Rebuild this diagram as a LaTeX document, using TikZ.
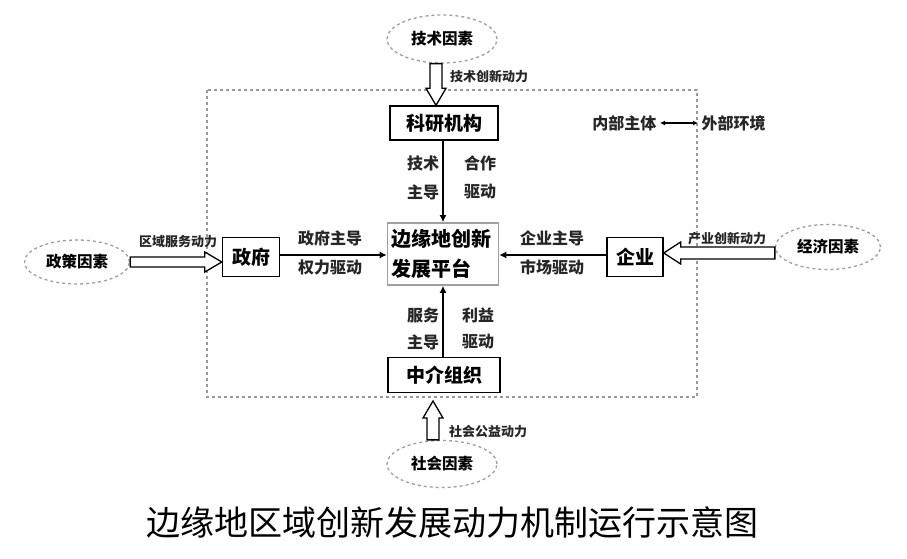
\documentclass[tikz,border=0pt]{standalone}
\usepackage{fontspec}
\setmainfont{Noto Sans CJK SC}
\usetikzlibrary{shapes.geometric,arrows.meta,calc}
\begin{document}
\begin{tikzpicture}[x=1pt,y=-1pt,
  box/.style={draw=black, line width=1.4pt, inner sep=0pt, font=\bfseries\fontsize{19}{21}\selectfont},
  platform/.style={draw=gray!75, line width=1.6pt, inner sep=0pt, align=left, font=\bfseries\fontsize{20}{30}\selectfont},
  elli/.style={ellipse, draw=gray!75, dash pattern=on 3pt off 3pt, line width=1.3pt, inner sep=0pt, font=\bfseries\fontsize{15.5}{16}\selectfont},
  lab/.style={font=\bfseries\fontsize{16}{17}\selectfont, text=black!85},
  small/.style={font=\bfseries\fontsize{13}{14}\selectfont, text=black!85},
  conn/.style={-{Latex[length=7pt,width=7pt]}, line width=1.5pt},
  hollow/.style={draw=black, line width=1.3pt, fill=white, line join=miter},
  frame/.style={draw=gray!80, line width=1.3pt, dash pattern=on 3pt off 3pt}
]
\useasboundingbox (0,0) rectangle (907,559);
\fill[white] (0,0) rectangle (907,559);

% dashed frame
\draw[frame] (207,90) rectangle (697,397);

% nodes
\node[box, minimum width=108pt, minimum height=34pt] (kyjg) at (444,123) {科研机构};
\node[platform, minimum width=111pt, minimum height=62pt, text width=104pt] (ptf) at (443,254) {边缘地创新\\发展平台};
\node[box, minimum width=57pt, minimum height=39pt] (zf) at (251,257) {政府};
\node[box, minimum width=56pt, minimum height=39pt] (qy) at (635,257) {企业};
\node[box, minimum width=112pt, minimum height=35pt] (zjzz) at (444,375) {中介组织};

\node[elli, minimum width=110pt, minimum height=48pt] (jsys) at (442,39) {技术因素};
\node[elli, minimum width=105pt, minimum height=44pt] (zcys) at (77,262) {政策因素};
\node[elli, minimum width=105pt, minimum height=45pt] (jjys) at (828,247) {经济因素};
\node[elli, minimum width=110pt, minimum height=47pt] (shys) at (442,464) {社会因素};

% internal connectors
\draw[conn] (kyjg.south -| 443,0) -- (ptf.north -| 443,0);
\draw[conn] (zjzz.north -| 443,0) -- (ptf.south -| 443,0);
\draw[conn] (zf.east |- 0,255) -- (ptf.west |- 0,255);
\draw[conn] (qy.west |- 0,255) -- (ptf.east |- 0,255);

% hollow arrows
% top
\coordinate (t1) at ($(kyjg.north)+(-8,0)$);
\coordinate (b1) at ($(jsys.south)+(-6,0)$);
\draw[hollow] ($(b1)+(-6,0)$) -- ($(t1)+(-6,-17)$) -- ($(t1)+(-10,-17)$) -- (t1)
  -- ($(t1)+(10,-17)$) -- ($(t1)+(6,-17)$) -- ($(b1)+(6,0)$) -- cycle;
% left
\coordinate (t2) at ($(zf.west)+(0,5)$);
\coordinate (b2) at (zcys.east |- t2);
\draw[hollow] ($(b2)+(0,-5)$) -- ($(t2)+(-17,-5)$) -- ($(t2)+(-17,-10)$) -- (t2)
  -- ($(t2)+(-17,10)$) -- ($(t2)+(-17,5)$) -- ($(b2)+(0,5)$) -- cycle;
% right
\coordinate (t3) at ($(qy.east)+(0,-4)$);
\coordinate (b3) at (jjys.west |- t3);
\draw[hollow] ($(b3)+(0,-6)$) -- ($(t3)+(17,-6)$) -- ($(t3)+(17,-11)$) -- (t3)
  -- ($(t3)+(17,11)$) -- ($(t3)+(17,6)$) -- ($(b3)+(0,6)$) -- cycle;
% bottom
\coordinate (t4) at (433,401);
\coordinate (b4) at (shys.north -| t4);
\draw[hollow] ($(b4)+(-6,0)$) -- ($(t4)+(-6,17)$) -- ($(t4)+(-10,17)$) -- (t4)
  -- ($(t4)+(10,17)$) -- ($(t4)+(6,17)$) -- ($(b4)+(6,0)$) -- cycle;

% arrow labels
\node[small] (l1) at (489,77) {技术创新动力};
\node[small] (l2) at (178,242) {区域服务动力};
\node[small] (l3) at (727,239) {产业创新动力};
\node[small] (l4) at (488,432) {社会公益动力};

% connector labels
\node[lab] (a1) at (423,163) {技术};
\node[lab] (a2) at (423,192) {主导};
\node[lab] (a3) at (480,163) {合作};
\node[lab] (a4) at (480,192) {驱动};
\node[lab] (c1) at (423,315) {服务};
\node[lab] (c2) at (423,342) {主导};
\node[lab] (c3) at (478,315) {利益};
\node[lab] (c4) at (478,342) {驱动};
\node[lab] (d1) at (330,238) {政府主导};
\node[lab] (d2) at (330,267) {权力驱动};
\node[lab] (e1) at (552,238) {企业主导};
\node[lab] (e2) at (552,267) {市场驱动};

% legend
\node[lab, anchor=east] (nb) at (660,123) {内部主体};
\node[lab, anchor=west] (wb) at (698,123) {外部环境};
\draw[{Latex[length=5pt,width=5pt]}-{Latex[length=5pt,width=5pt]}, line width=1.3pt] (nb.east) -- (wb.west);

% caption
\node[font=\fontsize{34}{35}\selectfont] (cap) at (452,522) {边缘地区域创新发展动力机制运行示意图};
\end{tikzpicture}
\end{document}
